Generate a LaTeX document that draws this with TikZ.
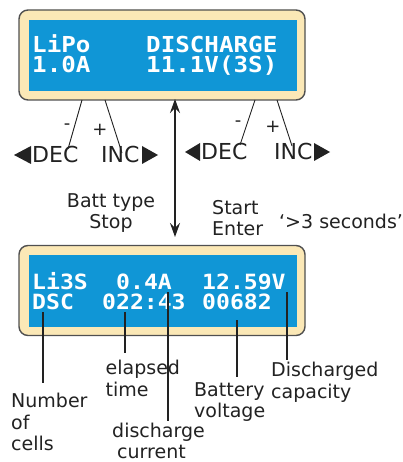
\documentclass[tikz,border=0pt]{standalone}
\usepackage{fontspec}
\setmainfont{DejaVu Sans}
\newfontfamily\lcdfont[FakeStretch=1.1]{DejaVu Sans Mono}
\usetikzlibrary{arrows.meta}
\definecolor{lcdblue}{RGB}{16,150,214}
\definecolor{cream}{RGB}{251,232,182}
\definecolor{rim}{RGB}{80,80,80}
\definecolor{ink}{RGB}{34,34,34}
\begin{document}
\begin{tikzpicture}[x=1pt,y=-1pt,
 frame/.style={draw=rim, line width=1.4pt, fill=cream, rounded corners=9pt, minimum width=286pt, minimum height=90pt, inner sep=0},
 screen/.style={fill=lcdblue, minimum width=268pt, inner sep=0},
 lcdtop/.style={text=white, font=\lcdfont\bfseries\fontsize{22}{22}\selectfont, inner sep=0, anchor=base west},
 lcdbot/.style={text=white, font=\lcdfont\bfseries\fontsize{21}{21}\selectfont, inner sep=0, anchor=base west},
 lbl/.style={text=ink, font=\fontsize{19}{21.5}\selectfont, inner sep=0, anchor=north west, align=left},
 keytext/.style={text=ink, font=\fontsize{22}{22}\selectfont, inner sep=0, anchor=base west},
 sign/.style={text=ink, font=\fontsize{18}{18}\selectfont, inner sep=0},
 leader/.style={draw=ink, line width=0.9pt},
 pointer/.style={draw=ink, line width=1.5pt},
 tri/.style={fill=ink},
 dblarrow/.style={draw=ink, line width=1.6pt, {Stealth[length=14pt,width=10pt,inset=5pt]}-{Stealth[length=14pt,width=10pt,inset=5pt]}}
]
\useasboundingbox (0,0) rectangle (403,462);
\fill[white] (0,0) rectangle (403,462);

% top display
\node[frame] (topframe) at (162,55) {};
\node[screen, minimum height=71pt] (topscreen) at (163,55.5) {};
\node[lcdtop] (lipo) at (32,53) {LiPo};
\node[lcdtop] (dis) at (146,53) {DISCHARGE};
\node[lcdtop] (amp) at (32,73) {1.0A};
\node[lcdtop] (volt) at (146,73) {11.1V(3S)};

% bottom display
\node[frame] (botframe) at (162,290.5) {};
\node[screen, minimum height=72pt] (botscreen) at (163,291) {};
\node[lcdbot] (li3s) at (32,289) {Li3S};
\node[lcdbot] (cur) at (116,289) {0.4A};
\node[lcdbot] (bv) at (202,289) {12.59V};
\node[lcdbot] (dsc) at (32,309) {DSC};
\node[lcdbot] (tim) at (102,309) {022:43};
\node[lcdbot] (cap) at (202,309) {00682};

% keys, left group
\node[keytext] (decA) at (32,163) {DEC};
\node[keytext] (incA) at (101,163) {INC};
\fill[tri] (31,146) -- (31,164) -- (14,155) -- cycle;
\fill[tri] (142,146) -- (142,164) -- (158,155) -- cycle;
\node[sign] (minusA) at (67,127) {-};
\node[sign] (plusA) at (100,130) {+};
\coordinate (ma1) at (82,100); \coordinate (ma2) at (68,149);
\coordinate (pa1) at (105,100); \coordinate (pa2) at (122,153);
\draw[leader] (ma1) -- (ma2);
\draw[leader] (pa1) -- (pa2);

% keys, right group
\node[keytext] (decB) at (201,160) {DEC};
\node[keytext] (incB) at (274,160) {INC};
\fill[tri] (200,143) -- (200,161) -- (185,152) -- cycle;
\fill[tri] (314,143) -- (314,161) -- (330,152) -- cycle;
\node[sign] (minusB) at (238,124) {-};
\node[sign] (plusB) at (273,127) {+};
\coordinate (mb1) at (255,100); \coordinate (mb2) at (240,145);
\coordinate (pb1) at (277,100); \coordinate (pb2) at (292,146);
\draw[leader] (mb1) -- (mb2);
\draw[leader] (pb1) -- (pb2);

% double arrow
\coordinate (arrT) at (175,99);
\coordinate (arrB) at (175,237);
\draw[dblarrow] (arrT) -- (arrB);

% middle labels
\node[lbl, anchor=north, align=center] (batt) at (111,193) {Batt type\\Stop};
\node[lbl] (start) at (212,200) {Start\\Enter};
\node[lbl] (sec) at (279,214) {‘>3 seconds’};

% bottom labels
\node[lbl] (ncell) at (11,393) {Number\\of\\cells};
\node[lbl] (elap) at (105.5,360) {elapsed\\time};
\node[lbl, font=\fontsize{19}{20.5}\selectfont] (dcur) at (112,423) {discharge\\\hspace*{5pt}current};
\node[lbl] (bvolt) at (194,382) {Battery\\voltage};
\node[lbl] (dcap) at (271,362) {Discharged\\capacity};

% bottom leaders
\coordinate (l1a) at (43,312); \coordinate (l1b) at (43,383);
\coordinate (l2a) at (125,312); \coordinate (l2b) at (125,353);
\coordinate (l3a) at (168,292); \coordinate (l3b) at (168,421);
\coordinate (l4a) at (237,320); \coordinate (l4b) at (237,377);
\coordinate (l5a) at (287,292); \coordinate (l5b) at (287,360);
\draw[pointer] (l1a) -- (l1b);
\draw[pointer] (l2a) -- (l2b);
\draw[pointer] (l3a) -- (l3b);
\draw[pointer] (l4a) -- (l4b);
\draw[pointer] (l5a) -- (l5b);
\end{tikzpicture}
\end{document}
